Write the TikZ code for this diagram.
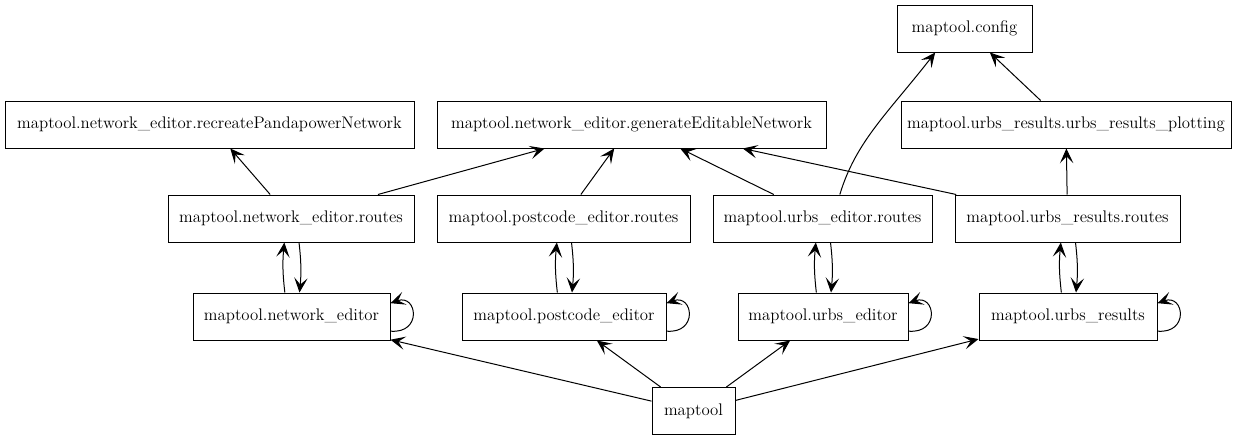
\documentclass[tikz,border=0pt]{standalone}
\usepackage{fontspec}
\usetikzlibrary{arrows.meta}
\begin{document}
\begin{tikzpicture}[x=0.75pt,y=-0.75pt,
  mod/.style={draw,line width=0.75pt,minimum height=35.25pt,inner sep=0pt,
    font=\rmfamily\fontsize{12.6}{15}\selectfont},
  edge/.style={line width=0.75pt,-{Stealth[length=11pt,width=10pt,inset=5pt]}}]
\useasboundingbox (0,0) rectangle (1237,443);
\node[mod,minimum width=101.25pt] (config) at (964.5,28.5) {maptool.config};
\node[mod,minimum width=306.75pt] (recreate) at (209.5,124.5) {maptool.network\_editor.recreatePandapowerNetwork};
\node[mod,minimum width=291.75pt] (generate) at (631.5,124.5) {maptool.network\_editor.generateEditableNetwork};
\node[mod,minimum width=247.5pt] (plotting) at (1066,124.5) {maptool.urbs\_results.urbs\_results\_plotting};
\node[mod,minimum width=184.5pt] (neroutes) at (291,218.5) {maptool.network\_editor.routes};
\node[mod,minimum width=189.75pt] (peroutes) at (563.5,218.5) {maptool.postcode\_editor.routes};
\node[mod,minimum width=164.25pt] (ueroutes) at (822.5,218.5) {maptool.urbs\_editor.routes};
\node[mod,minimum width=168.75pt] (urroutes) at (1067.5,218.5) {maptool.urbs\_results.routes};
\node[mod,minimum width=147.75pt] (ne) at (291.5,316.5) {maptool.network\_editor};
\node[mod,minimum width=153pt] (pe) at (564,316.5) {maptool.postcode\_editor};
\node[mod,minimum width=127.5pt] (ue) at (823,316.5) {maptool.urbs\_editor};
\node[mod,minimum width=133.5pt] (ur) at (1068,316.5) {maptool.urbs\_results};
\node[mod,minimum width=62.25pt] (maptool) at (693.5,411) {maptool};
\draw[edge] (maptool) -- (ne);
\draw[edge] (maptool) -- (pe);
\draw[edge] (maptool) -- (ue);
\draw[edge] (maptool) -- (ur);
\foreach \p/\r in {ne/neroutes,pe/peroutes,ue/ueroutes,ur/urroutes}{
  \draw[edge] ([xshift=-5pt]\p.north) to[bend left=6] ([xshift=-5pt]\r.south);
  \draw[edge] ([xshift=6pt]\r.south) to[bend left=6] ([xshift=6pt]\p.north);
  \draw[edge] ([yshift=-11pt]\p.east) .. controls +(24pt,-2pt) and +(20pt,7pt) .. ([yshift=10pt]\p.east);
}
\draw[edge] (neroutes) -- (recreate);
\draw[edge] (neroutes) -- (generate);
\draw[edge] (peroutes) -- (generate);
\draw[edge] (ueroutes) -- (generate);
\draw[edge] (urroutes) -- (generate);
\draw[edge] (urroutes) -- (plotting);
\draw[edge] (plotting) -- (config);
\draw[edge] ([xshift=13pt]ueroutes.north) .. controls +(12pt,40pt) and +(-35pt,-45pt) .. ([xshift=-22pt]config.south);
\end{tikzpicture}
\end{document}
